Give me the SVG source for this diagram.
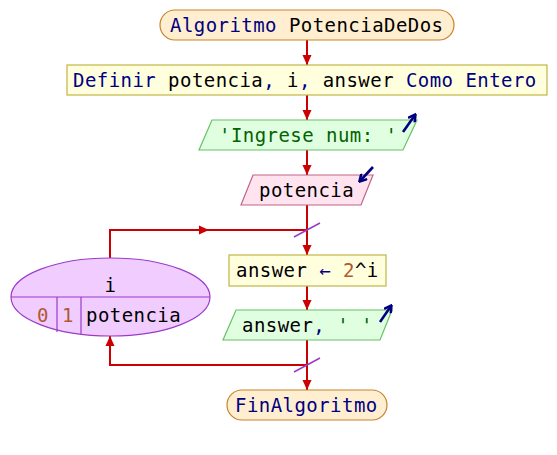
<svg xmlns="http://www.w3.org/2000/svg" width="557" height="455" viewBox="0 0 557 455">
<style>
text{font-family:"DejaVu Sans Mono","Liberation Mono",monospace;font-size:19px;letter-spacing:0.45px;fill:#000}
.kw{fill:#000080}
.num{fill:#b05a30}
.str{fill:#006400}
.term{fill:#ffefd0;stroke:#c8832a;stroke-width:1.2}
.proc{fill:#ffffdd;stroke:#c0b448;stroke-width:1.2}
.out{fill:#e0ffe0;stroke:#66c266;stroke-width:1.2}
.inp{fill:#ffe4f0;stroke:#c06488;stroke-width:1.2}
.loop{fill:#f0ccff;stroke:#9a3cc8;stroke-width:1.2}
.ln{fill:none;stroke:#cc0000;stroke-width:2}
.io{fill:none;stroke:#000080;stroke-width:2.6}
.sl{stroke:#9a3cc8;stroke-width:1.5}
</style>
<defs>
<marker id="ah" viewBox="0 0 10 10" refX="10" refY="5" markerWidth="10" markerHeight="10" markerUnits="userSpaceOnUse" orient="auto">
<path d="M0,0.5 L10,5 L0,9.5 z" fill="#cc0000"/>
</marker>
<marker id="ioh" viewBox="0 0 10 10" refX="8" refY="5" markerWidth="9" markerHeight="9" markerUnits="userSpaceOnUse" orient="auto">
<path d="M1,0.5 L9,5 L1,9.5" fill="none" stroke="#000080" stroke-width="2.8"/>
</marker>
</defs>
<g id="connectors">
<line class="ln" x1="307" y1="40" x2="307" y2="65" marker-end="url(#ah)"/>
<line class="ln" x1="307" y1="95" x2="307" y2="120" marker-end="url(#ah)"/>
<line class="ln" x1="307" y1="150" x2="307" y2="175" marker-end="url(#ah)"/>
<line class="ln" x1="307" y1="205" x2="307" y2="255" marker-end="url(#ah)"/>
<line class="ln" x1="307" y1="286" x2="307" y2="310" marker-end="url(#ah)"/>
<line class="ln" x1="307" y1="340" x2="307" y2="390" marker-end="url(#ah)"/>
<polyline class="ln" points="110,258 110,230 307,230"/>
<line class="ln" x1="200" y1="230" x2="209" y2="230" marker-end="url(#ah)"/>
<polyline class="ln" points="307,365 110,365 110,336" marker-end="url(#ah)"/>
<line class="sl" x1="294" y1="237" x2="320" y2="223"/>
<line class="sl" x1="294" y1="372" x2="320" y2="358"/>
</g>
<g id="start">
<rect class="term" x="160" y="10" width="294" height="30" rx="15"/>
<text x="170" y="32"><tspan class="kw">Algoritmo</tspan> PotenciaDeDos</text>
</g>
<g id="define">
<rect class="proc" x="67" y="65" width="480" height="30"/>
<text x="73" y="87"><tspan class="kw">Definir</tspan> potencia<tspan class="kw">,</tspan> i<tspan class="kw">,</tspan> answer <tspan class="kw">Como Entero</tspan></text>
</g>
<g id="write1">
<polygon class="out" points="212,120 417,120 403,150 199,150"/>
<line class="io" x1="403" y1="132" x2="415" y2="115" marker-end="url(#ioh)"/>
<text x="219" y="142" class="str">'Ingrese num: '</text>
</g>
<g id="read1">
<polygon class="inp" points="253,175 373,175 361,205 241,205"/>
<line class="io" x1="373" y1="167" x2="360" y2="181" marker-end="url(#ioh)"/>
<text x="259" y="197">potencia</text>
</g>
<g id="forloop">
<ellipse class="loop" cx="110.5" cy="297" rx="99.5" ry="39"/>
<line class="loop" x1="11" y1="297" x2="210" y2="297"/>
<line class="loop" x1="57" y1="297" x2="57" y2="332"/>
<line class="loop" x1="81" y1="297" x2="81" y2="334"/>
<text x="110.5" y="292" text-anchor="middle">i</text>
<text x="37" y="322" class="num">0</text>
<text x="62" y="322" class="num">1</text>
<text x="86" y="322">potencia</text>
</g>
<g id="assign">
<rect class="proc" x="229" y="255" width="157" height="31"/>
<text x="236" y="277">answer <tspan class="kw">←</tspan> <tspan class="num">2</tspan>^i</text>
</g>
<g id="write2">
<polygon class="out" points="236,310 392,310 380,340 223,340"/>
<line class="io" x1="380" y1="322" x2="391" y2="306" marker-end="url(#ioh)"/>
<text x="242" y="332">answer<tspan class="kw">,</tspan> <tspan class="str">' '</tspan></text>
</g>
<g id="end">
<rect class="term" x="227" y="390" width="160" height="30" rx="15"/>
<text x="235" y="412" class="kw">FinAlgoritmo</text>
</g>
</svg>
